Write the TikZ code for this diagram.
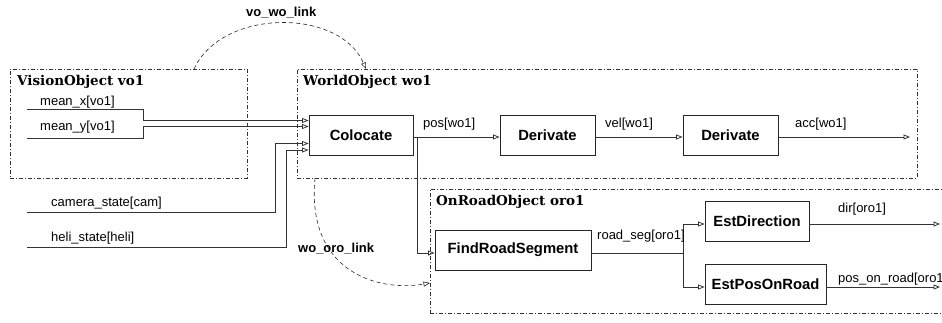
\documentclass[tikz,border=0pt]{standalone}
\usepackage{fontspec}
\setsansfont{Liberation Sans}
\newfontfamily\titlefont{DejaVu Serif}
\usetikzlibrary{arrows.meta}
\begin{document}
\begin{tikzpicture}[x=1pt,y=-1pt,
  container/.style={draw=black!80,line width=0.6pt,dash pattern=on 4pt off 2pt on 1pt off 2pt},
  ctitle/.style={anchor=base west,inner sep=0pt,font=\titlefont\fontsize{13.5}{15}\selectfont\bfseries},
  block/.style={draw=black!85,line width=0.9pt,minimum height=40pt,inner sep=0pt,font=\sffamily\fontsize{14.8}{16}\selectfont\bfseries},
  sig/.style={draw=black!80,line width=0.8pt},
  sigarr/.style={sig,-{Triangle[open,length=6.5pt,width=5pt]}},
  lbl/.style={anchor=base west,inner sep=0pt,font=\sffamily\fontsize{13}{15}\selectfont},
  linklbl/.style={anchor=base west,inner sep=0pt,font=\sffamily\fontsize{13}{15}\selectfont\bfseries},
  link/.style={draw=black!85,line width=0.6pt,dashed,dash pattern=on 4pt off 3pt,-{Triangle[open,length=6.5pt,width=5pt]}}]
\useasboundingbox (0,0) rectangle (942,323);
\clip (0,0) rectangle (942,323);

% containers
\node[container,minimum width=237pt,minimum height=109pt,anchor=north west,inner sep=0pt] (vo) at (10,69) {};
\node[container,minimum width=620pt,minimum height=109pt,anchor=north west,inner sep=0pt] (wo) at (297,69) {};
\node[container,minimum width=530pt,minimum height=124pt,anchor=north west,inner sep=0pt] (oro) at (430,189) {};
\node[ctitle] (vot) at (17,86) {VisionObject vo1};
\node[ctitle] (wot) at (303,86) {WorldObject wo1};
\node[ctitle] (orot) at (436,205) {OnRoadObject oro1};

% blocks
\node[block,minimum width=104pt] (coloc) at (361,135) {Colocate};
\node[block,minimum width=95pt] (der1) at (547.5,135) {Derivate};
\node[block,minimum width=95pt] (der2) at (730.5,135) {Derivate};
\node[block,minimum width=156pt] (frs) at (513,250) {FindRoadSegment};
\node[block,minimum width=104pt] (estdir) at (757,221) {EstDirection};
\node[block,minimum width=121pt] (estpos) at (765.5,284) {EstPosOnRoad};

% free ends
\coordinate (mx) at (27,109);
\coordinate (my) at (27,138);
\coordinate (cam) at (27,212);
\coordinate (heli) at (27,247);
\coordinate (accend) at (910,137);
\coordinate (dirend) at (940,224);
\coordinate (posend) at (940,287);
\coordinate (cb) at (417,137);
\coordinate (br) at (683,253);

% inputs
\draw[sigarr] (mx) -- (143,109) |- ([yshift=14.5pt]coloc.west);
\draw[sigarr] (my) -- (143,138) |- ([yshift=8.5pt]coloc.west);
\draw[sigarr] (cam) -- (275,212) |- ([yshift=-8.5pt]coloc.west);
\draw[sigarr] (heli) -- (286,247) |- ([yshift=-15pt]coloc.west);
\node[lbl] at (40,105.5) {mean\_x[vo1]};
\node[lbl] at (40,131) {mean\_y[vo1]};
\node[lbl] at (51,207) {camera\_state[cam]};
\node[lbl] at (51,241) {heli\_state[heli]};

% chain
\draw[sigarr] ([yshift=-2pt]coloc.east) -- ([yshift=-2pt]der1.west);
\draw[sigarr] ([yshift=-2pt]der1.east) -- ([yshift=-2pt]der2.west);
\draw[sigarr] ([yshift=-2pt]der2.east) -- (accend);
\node[lbl] at (423,128) {pos[wo1]};
\node[lbl] at (605,127.5) {vel[wo1]};
\node[lbl] at (795,127.5) {acc[wo1]};

\draw[sigarr] (cb) |- ([yshift=-3pt]frs.west);
\draw[sig] ([yshift=-3pt]frs.east) -- (br);
\draw[sigarr] (br) |- ([yshift=-3pt]estdir.west);
\draw[sigarr] (br) |- ([yshift=-3pt]estpos.west);
\draw[sigarr] ([yshift=-3pt]estdir.east) -- (dirend);
\draw[sigarr] ([yshift=-3pt]estpos.east) -- (posend);
\node[lbl] at (597,240) {road\_seg[oro1]};
\node[lbl] at (838,213) {dir[oro1]};
\node[lbl] at (838,282) {pos\_on\_road[oro1]};

% links
\coordinate (l1s) at (194,69);
\coordinate (l1e) at (366,69);
\draw[link] (l1s) .. controls (222,8) and (340,8) .. (l1e);
\node[linklbl] at (246,17) {vo\_wo\_link};
\coordinate (l2s) at (315,178);
\coordinate (l2e) at (430,283);
\draw[link] (l2s) .. controls (306,272) and (378,292) .. (l2e);
\node[linklbl] at (298,252) {wo\_oro\_link};
\end{tikzpicture}
\end{document}
